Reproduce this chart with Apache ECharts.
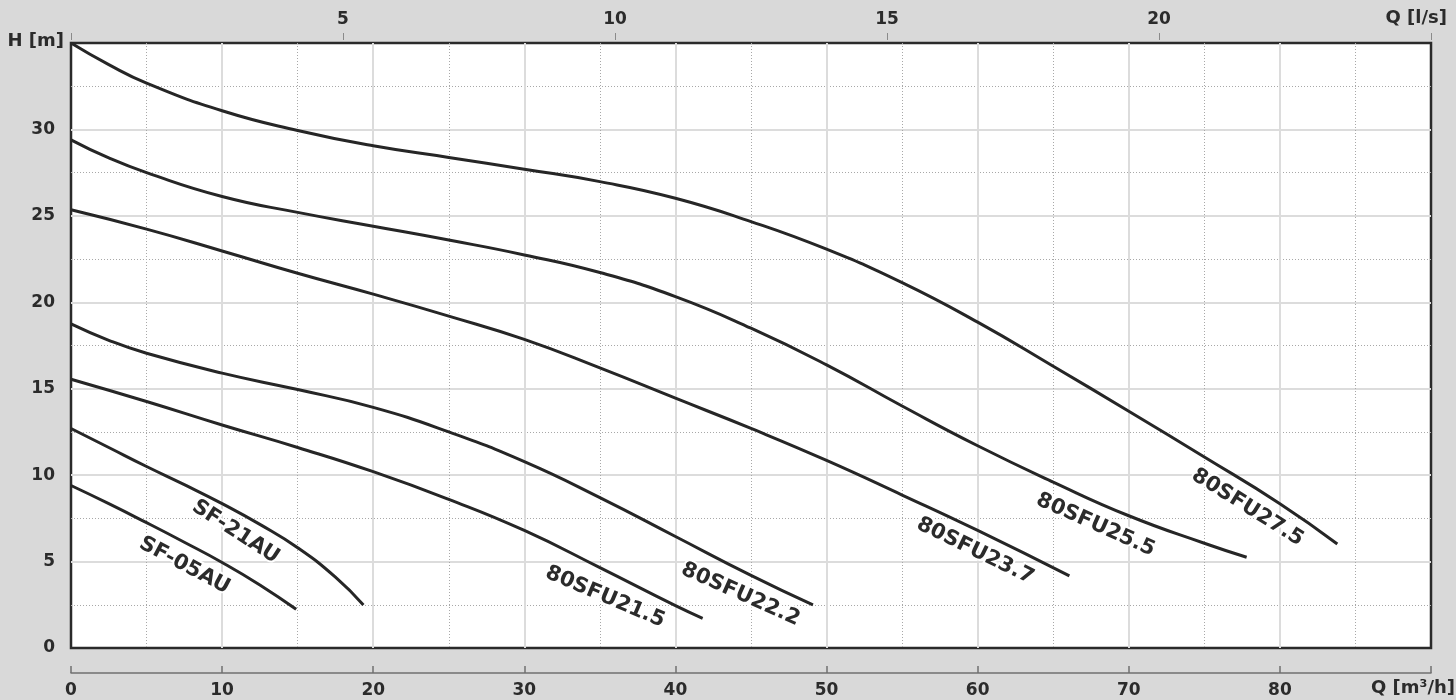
<!DOCTYPE html>
<html>
<head>
<meta charset="utf-8">
<script src="https://cdn.jsdelivr.net/npm/echarts@6/dist/echarts.min.js"></script>
<style>
  html, body { margin: 0; padding: 0; background: #d9d9d9; }
  #chart { width: 1456px; height: 700px; }
</style>
</head>
<body>
<div id="chart"></div>
<script>
// ---- data (Q in m3/h, H in m) ----
const bottomTicks = [0, 10, 20, 30, 40, 50, 60, 70, 80];   // m3/h
const topTicks = [5, 10, 15, 20];                          // l/s
const yTicks = [0, 5, 10, 15, 20, 25, 30];                 // m
const qMaxM3h = 90;
const qMaxLs = 25;
const hMax = 35;

const seriesNames = ['SF-05AU', 'SF-21AU', '80SFU21.5', '80SFU22.2', '80SFU23.7', '80SFU25.5', '80SFU27.5'];

const sf05au = [[0, 9.4], [2.5, 8.35], [5, 7.25], [7.5, 6.12], [10, 4.95], [12.5, 3.65], [14.9, 2.24]];
const sf21au = [[0, 12.7], [2.5, 11.6], [5, 10.5], [7.5, 9.45], [10, 8.35], [12.5, 7.15], [15, 5.8], [17.5, 4.1], [19.35, 2.49]];
const sfu215 = [[0, 15.55], [5, 14.26], [10, 12.9], [15, 11.6], [20, 10.2], [25, 8.6], [30, 6.8], [35, 4.65], [40, 2.45], [41.8, 1.72]];
const sfu222 = [[0, 18.75], [2.5, 17.8], [5, 17.05], [10, 15.9], [15, 14.95], [20, 13.92], [25, 12.5], [30, 10.78], [35, 8.7], [40, 6.45], [45, 4.2], [49.1, 2.49]];
const sfu237 = [[0, 25.35], [5, 24.23], [10, 22.97], [15, 21.68], [20, 20.47], [25, 19.2], [30, 17.85], [35, 16.2], [40, 14.45], [45, 12.7], [50, 10.85], [55, 8.85], [60, 6.8], [66.07, 4.17]];
const sfu255 = [[0, 29.4], [2.5, 28.35], [5, 27.5], [10, 26.12], [15, 25.2], [20, 24.4], [25, 23.6], [30, 22.74], [35, 21.72], [40, 20.33], [45, 18.5], [50, 16.38], [55, 14.0], [60, 11.7], [65, 9.6], [70, 7.65], [75, 6.06], [77.8, 5.25]];
const sfu275 = [[0, 35], [2.5, 33.75], [5, 32.68], [10, 31.08], [15, 29.94], [20, 29.05], [25, 28.38], [30, 27.7], [35, 26.98], [40, 26.02], [45, 24.67], [50, 23.07], [55, 21.14], [60, 18.85], [65, 16.3], [70, 13.7], [75, 11.05], [80, 8.35], [83.8, 6.02]];

const curves = [sf05au, sf21au, sfu215, sfu222, sfu237, sfu255, sfu275];

// curve label anchors [Q, H] and rotation (deg)
const labelAnchors = [[7.51, 4.77], [10.89, 6.71], [35.34, 2.95], [44.31, 3.10], [59.83, 5.61], [67.80, 7.12], [77.86, 8.13]];
const labelAngles = [28, 33, 23, 24, 26, 24, 32];

// ---- chart ----
const FONT = 'DejaVu Sans';
const TXT = '#2b2b2b';
const chart = echarts.init(document.getElementById('chart'));

const lineSeries = curves.map((d, i) => ({
  name: seriesNames[i],
  type: 'line',
  xAxisIndex: 0,
  yAxisIndex: 0,
  data: d,
  smooth: 0.5,
  showSymbol: false,
  symbol: 'none',
  silent: true,
  lineStyle: { color: '#262626', width: 3 },
  z: 5
}));

const labelSeries = {
  type: 'scatter',
  xAxisIndex: 0,
  yAxisIndex: 0,
  symbolSize: 0,
  silent: true,
  z: 10,
  itemStyle: { opacity: 1 },
  data: labelAnchors.map((p, i) => ({
    value: p,
    name: seriesNames[i],
    label: { rotate: -labelAngles[i] }
  })),
  label: {
    show: true,
    position: 'inside',
    formatter: p => p.name,
    fontFamily: FONT,
    fontWeight: 'bold',
    fontSize: 21,
    color: TXT,
    opacity: 1,
    textBorderColor: '#ffffff',
    textBorderWidth: 4
  }
};

const option = {
  backgroundColor: '#d9d9d9',
  animation: false,
  grid: {
    left: 71, right: 25, top: 43, bottom: 52,
    show: true,
    backgroundColor: '#ffffff',
    borderColor: '#2a2a2a',
    borderWidth: 2.5
  },
  xAxis: [
    {
      type: 'value', position: 'bottom', min: 0, max: qMaxM3h, interval: 10,
      offset: 25,
      axisLine: { show: true, onZero: false, lineStyle: { color: '#707070', width: 1.5 } },
      axisTick: { show: true, inside: true, length: 7, lineStyle: { color: '#707070', width: 1.5 } },
      axisLabel: {
        margin: 9, fontFamily: FONT, fontWeight: 'bold', fontSize: 17, color: TXT,
        formatter: v => (bottomTicks.indexOf(v) >= 0 ? String(v) : '')
      },
      splitLine: { show: true, showMinLine: false, showMaxLine: false, lineStyle: { color: '#dcdcdc', width: 2 } }
    },
    {
      type: 'value', position: 'bottom', min: 0, max: qMaxM3h, interval: 5,
      axisLine: { show: false }, axisTick: { show: false }, axisLabel: { show: false },
      splitLine: { show: true, showMinLine: false, showMaxLine: false, lineStyle: { color: ['#a8a8a8', 'rgba(0,0,0,0)'], width: 1, type: [1, 2] } }
    },
    {
      type: 'value', position: 'top', min: 0, max: qMaxLs, interval: 5,
      offset: 3,
      axisLine: { show: false, onZero: false },
      axisTick: { show: true, length: 7, lineStyle: { color: '#8a8a8a', width: 1 } },
      axisLabel: {
        margin: 12, fontFamily: FONT, fontWeight: 'bold', fontSize: 17, color: TXT,
        formatter: v => (topTicks.indexOf(v) >= 0 ? String(v) : '')
      },
      splitLine: { show: false }
    }
  ],
  yAxis: [
    {
      type: 'value', min: 0, max: hMax, interval: 5,
      axisLine: { show: false }, axisTick: { show: false },
      axisLabel: {
        margin: 16, fontFamily: FONT, fontWeight: 'bold', fontSize: 17, color: TXT,
        formatter: v => (yTicks.indexOf(v) >= 0 ? String(v) : '')
      },
      splitLine: { show: true, showMinLine: false, showMaxLine: false, lineStyle: { color: '#dcdcdc', width: 2 } }
    },
    {
      type: 'value', min: 0, max: hMax, interval: 2.5,
      axisLine: { show: false }, axisTick: { show: false }, axisLabel: { show: false },
      splitLine: { show: true, showMinLine: false, showMaxLine: false, lineStyle: { color: ['#a8a8a8', 'rgba(0,0,0,0)'], width: 1, type: [1, 2] } }
    }
  ],
  graphic: [
    { type: 'text', right: 1392, top: 32, style: { text: 'H [m]', fontFamily: FONT, fontWeight: 'bold', fontSize: 18, fill: TXT } },
    { type: 'text', right: 9, top: 9, style: { text: 'Q [l/s]', fontFamily: FONT, fontWeight: 'bold', fontSize: 18, fill: TXT } },
    { type: 'text', right: 1, top: 679, style: { text: 'Q [m³/h]', fontFamily: FONT, fontWeight: 'bold', fontSize: 18, fill: TXT } }
  ],
  series: lineSeries.concat([labelSeries])
};

chart.setOption(option);
</script>
</body>
</html>
